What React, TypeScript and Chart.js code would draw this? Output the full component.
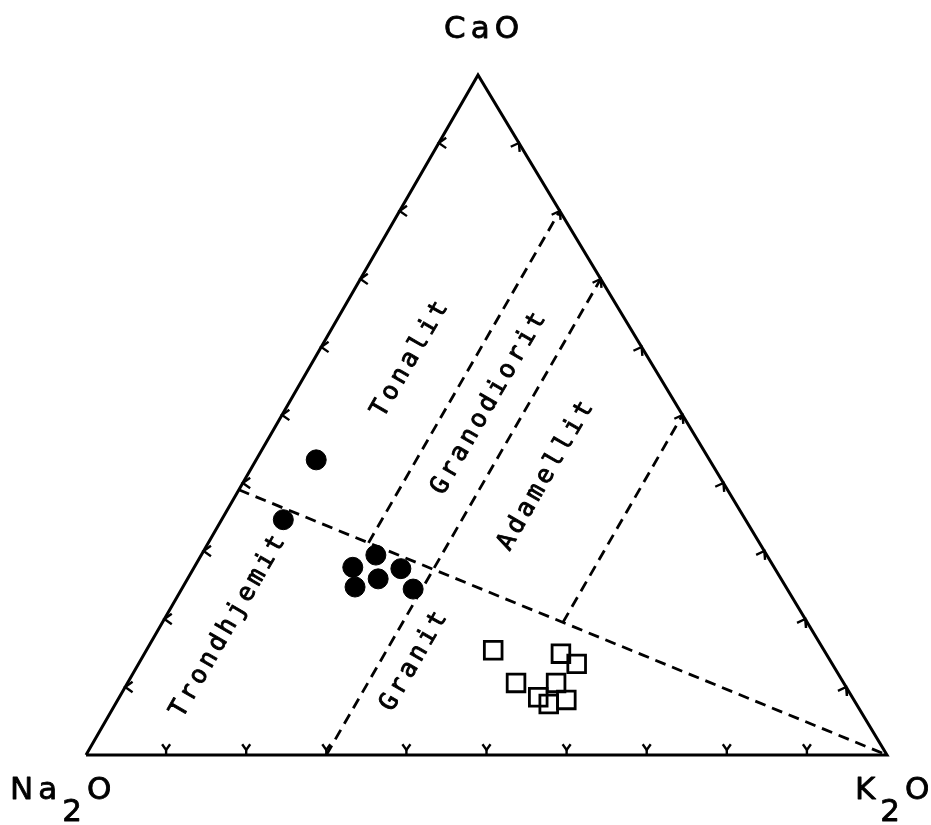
import { useEffect, useRef } from "react";
import { Chart, registerables } from "chart.js";

Chart.register(...registerables);

// ---- Data (relative proportions, Na2O / CaO / K2O) ----
// Filled circles
const circleNa = [49.1, 57.7, 48.8, 52.6, 46.7, 50.3, 53.8, 46.7];
const circleCa = [43.4, 34.6, 29.4, 27.6, 27.4, 25.9, 24.7, 24.4];
const circleK = [7.5, 7.7, 21.8, 19.8, 25.9, 23.8, 21.5, 28.9];

// Open squares
const squareNa = [41.3, 33.1, 31.9, 40.9, 35.9, 39.2, 35.9, 38.4];
const squareCa = [15.4, 14.9, 13.4, 10.6, 10.6, 8.5, 8.1, 7.5];
const squareK = [43.3, 52.0, 54.7, 48.5, 53.5, 52.3, 56.0, 54.1];

// Field boundaries (dashed): start / end as [Na, Ca, K]
const boundaryStart = [
  [61, 39, 0],
  [48.8, 31.2, 20],
  [70, 0, 30],
  [30.5, 19.5, 50],
];
const boundaryEnd = [
  [0, 0, 100],
  [0, 80, 20],
  [0, 70, 30],
  [0, 50, 50],
];

// Field names and label anchor compositions
const fieldNames = ["Tonalit", "Granodiorit", "Adamellit", "Trondhjemit", "Granit"];
const fieldNa = [29.6, 23.1, 21.4, 72.4, 51.8];
const fieldCa = [58.4, 51.9, 41.3, 19.1, 14.0];
const fieldK = [12.0, 25.0, 37.3, 8.5, 34.2];

// Edge tick values (%)
const tickValues = [10, 20, 30, 40, 50, 60, 70, 80, 90];

// ---- Geometry ----
const W = 931;
const H = 825;
const PX = 8.01; // pixels per data unit
const APEX_X = 48.94;
const APEX_Y = 84.9;
const X_MIN = -86 / PX;
const X_MAX = X_MIN + W / PX;
const Y_MAX = 755 / PX;
const Y_MIN = Y_MAX - H / PX;

function toXY(na: number, ca: number, k: number) {
  const s = na + ca + k;
  return { x: (100 * k + APEX_X * ca) / s, y: (APEX_Y * ca) / s };
}

function offset(p: { x: number; y: number }, angDeg: number, lenPx: number) {
  const a = (angDeg * Math.PI) / 180;
  return { x: p.x + (Math.cos(a) * lenPx) / PX, y: p.y + (Math.sin(a) * lenPx) / PX };
}

function lineDs(data: any[], dashed: boolean, width: number) {
  return {
    type: "scatter" as const,
    data,
    showLine: true,
    borderColor: "#000",
    borderWidth: width,
    borderDash: dashed ? [11, 7] : [],
    pointRadius: 0,
    pointHoverRadius: 0,
    fill: false,
    tension: 0,
    clip: false as any,
  };
}

export default function App() {
  const ref = useRef<HTMLCanvasElement | null>(null);

  useEffect(() => {
    if (!ref.current) return;

    const circles = circleNa.map((na, i) => toXY(na, circleCa[i], circleK[i]));
    const squares = squareNa.map((na, i) => toXY(na, squareCa[i], squareK[i]));

    const datasets: any[] = [];
    datasets.push({
      type: "scatter",
      data: circles,
      pointStyle: "circle",
      pointRadius: 10,
      pointBackgroundColor: "#000",
      pointBorderColor: "#000",
      pointBorderWidth: 1,
      backgroundColor: "#000",
      borderColor: "#000",
      clip: false,
    });
    datasets.push({
      type: "scatter",
      data: squares,
      pointStyle: "rect",
      pointRadius: 12.5,
      pointBackgroundColor: "rgba(0,0,0,0)",
      pointBorderColor: "#000",
      pointBorderWidth: 2.8,
      backgroundColor: "rgba(0,0,0,0)",
      borderColor: "#000",
      borderWidth: 2.8,
      clip: false,
    });

    // Triangle outline
    datasets.push(
      lineDs([toXY(100, 0, 0), toXY(0, 0, 100), toXY(0, 100, 0), toXY(100, 0, 0)], false, 3)
    );

    // Field boundaries
    boundaryStart.forEach((s, i) => {
      const e = boundaryEnd[i];
      datasets.push(lineDs([toXY(s[0], s[1], s[2]), toXY(e[0], e[1], e[2])], true, 2.8));
    });

    // Ticks
    tickValues.forEach((v) => {
      // left edge (Na-Ca): arrowhead pointing left
      const pl = toXY(100 - v, v, 0);
      datasets.push(lineDs([offset(pl, 35, 9), pl, offset(pl, -35, 9)], false, 2.4));
      // right edge (Ca-K): arrowhead pointing up-right
      const pr = toXY(0, v, 100 - v);
      datasets.push(lineDs([offset(pr, 205, 9), pr, offset(pr, 275, 9)], false, 2.4));
      // bottom edge (Na-K): small Y
      const pb = toXY(100 - v, 0, v);
      const top = offset(pb, 90, 5);
      datasets.push(lineDs([offset(top, 125, 7), top, offset(top, 55, 7)], false, 2.4));
      datasets.push(lineDs([pb, top], false, 2.4));
    });

    const labelPlugin = {
      id: "ternaryLabels",
      afterDatasetsDraw(chart: any) {
        const ctx = chart.ctx as CanvasRenderingContext2D;
        const xs = chart.scales.x;
        const ys = chart.scales.y;
        const pix = (p: { x: number; y: number }) => ({
          x: xs.getPixelForValue(p.x),
          y: ys.getPixelForValue(p.y),
        });
        ctx.save();
        ctx.fillStyle = "#000";
        ctx.strokeStyle = "#000";
        ctx.lineJoin = "round";

        // Field labels
        ctx.font = '25px "DejaVu Sans Mono"';
        (ctx as any).letterSpacing = "4px";
        ctx.lineWidth = 0.9;
        ctx.textAlign = "center";
        ctx.textBaseline = "middle";
        fieldNames.forEach((name, i) => {
          const p = pix(toXY(fieldNa[i], fieldCa[i], fieldK[i]));
          ctx.save();
          ctx.translate(p.x, p.y);
          ctx.rotate(-Math.PI / 3);
          ctx.fillText(name, 0, 0);
          ctx.strokeText(name, 0, 0);
          ctx.restore();
        });

        // Apex labels
        ctx.font = '31px "DejaVu Sans"';
        (ctx as any).letterSpacing = "5px";
        ctx.lineWidth = 0.8;
        ctx.textBaseline = "alphabetic";
        const ca = pix(toXY(0, 100, 0));
        ctx.textAlign = "center";
        ctx.fillText("CaO", ca.x + 6, ca.y - 37);
        ctx.strokeText("CaO", ca.x + 6, ca.y - 37);

        const drawSub = (parts: [string, number][], x: number, y: number) => {
          ctx.textAlign = "left";
          let cx = x;
          parts.forEach(([t, dy]) => {
            ctx.fillText(t, cx, y + dy);
            ctx.strokeText(t, cx, y + dy);
            cx += ctx.measureText(t).width;
          });
        };
        const na = pix(toXY(100, 0, 0));
        drawSub([["Na", 0], ["2", 22], ["O", 0]], na.x - 76, na.y + 44);
        const k = pix(toXY(0, 0, 100));
        drawSub([["K", 0], ["2", 22], ["O", 0]], k.x - 32, k.y + 44);

        ctx.restore();
      },
    };

    const chart = new Chart(ref.current, {
      type: "scatter",
      data: { datasets },
      options: {
        animation: false,
        responsive: false,
        devicePixelRatio: 1,
        layout: { padding: 0, autoPadding: false },
        events: [],
        scales: {
          x: { type: "linear", min: X_MIN, max: X_MAX, display: false },
          y: { type: "linear", min: Y_MIN, max: Y_MAX, display: false },
        },
        plugins: {
          legend: { display: false },
          tooltip: { enabled: false },
        },
      },
      plugins: [labelPlugin],
    });

    return () => chart.destroy();
  }, []);

  return (
    <div style={{ position: "absolute", left: 0, top: 0, width: W, height: H, background: "#fff" }}>
      <canvas ref={ref} width={W} height={H} style={{ width: W, height: H, display: "block" }} />
    </div>
  );
}
